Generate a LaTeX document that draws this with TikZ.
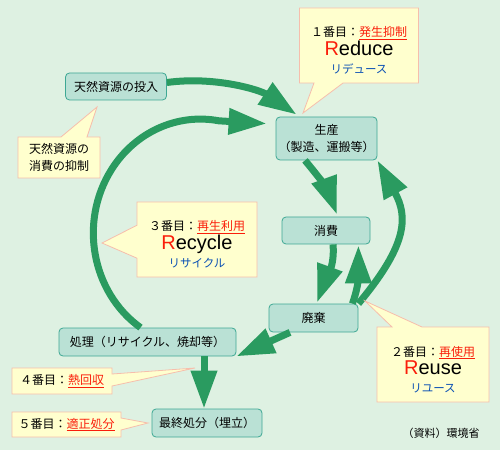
\documentclass[tikz,border=0pt]{standalone}
\usepackage{fontspec}
\setmainfont{Noto Sans CJK JP}
\newfontfamily\latinfont{Liberation Sans}
\usetikzlibrary{arrows.meta,shapes.callouts,positioning}

\definecolor{bgmint}{RGB}{222,241,226}
\definecolor{stagefill}{RGB}{186,225,213}
\definecolor{stageline}{RGB}{62,168,148}
\definecolor{notefill}{RGB}{255,255,206}
\definecolor{noteline}{RGB}{246,190,172}
\definecolor{flowgreen}{RGB}{42,155,96}
\definecolor{accentred}{RGB}{250,30,10}
\definecolor{kanablue}{RGB}{10,80,180}

\newcommand\redul[1]{\textcolor{accentred}{\underline{#1}}}
\newcommand\rword[2]{{\latinfont\fontsize{20}{22}\selectfont\textcolor{accentred}{#1}#2}}
\newcommand\kana[1]{{\color{kanablue}\fontsize{11.5}{13}\selectfont #1}}

\begin{document}
\begin{tikzpicture}[x=1pt, y=1pt,
    stage/.style={draw=stageline, fill=stagefill, rounded corners=4pt, line width=0.8pt, inner sep=0pt, align=center, font=\fontsize{12}{17}\selectfont},
    note/.style={rectangle callout, draw=noteline, fill=notefill, line width=0.8pt, inner sep=0pt, align=center, font=\fontsize{12}{17}\selectfont},
    flow/.style={draw=flowgreen, line width=7pt, -{Triangle[length=38pt,width=25pt]}}]
    \fill[bgmint] (0,0) rectangle (500,450);
    \useasboundingbox (0,0) rectangle (500,450);
    % stages of the cycle
    \node[stage, minimum width=101pt, minimum height=27pt] (input) at (116,363.5) {天然資源の投入};
    \node[stage, minimum width=101pt, minimum height=43pt] (prod) at (326.5,311.5) {生産\\（製造、運搬等）};
    \node[stage, minimum width=88pt, minimum height=27pt] (cons) at (326,219.5) {消費};
    \node[stage, minimum width=89pt, minimum height=28pt] (waste) at (313.5,132) {廃棄};
    \node[stage, minimum width=177pt, minimum height=28pt] (treat) at (147.5,108) {処理（リサイクル、焼却等）};
    \node[stage, minimum width=110pt, minimum height=28pt] (final) at (207,27) {最終処分（埋立）};
    % callout tips
    \coordinate (natptr) at (97,343);
    \coordinate (reduceptr) at (303,337);
    \coordinate (recycleptr) at (102,207);
    \coordinate (reuseptr) at (365,149);
    \coordinate (heatptr) at (195,82);
    \coordinate (disposeptr) at (148,27);
    \coordinate (reusebend) at (408,0);
    % flows
    \draw[flow] ([yshift=4pt]input.east) .. controls (215,374) and (260,360) .. ([xshift=21pt,yshift=2pt]prod.north west);
    \draw[flow] ([xshift=-7pt]treat.north) arc[start angle=236, end angle=80, x radius=107pt, y radius=114pt] -- ([xshift=-9pt,yshift=-7pt]prod.north west);
    \draw[flow] ([xshift=-21.5pt]prod.south) to[out=-50, in=110] ([xshift=11pt,yshift=2pt]cons.north);
    \draw[flow] ([xshift=7pt]cons.south) to[out=-85, in=70] ([xshift=3.5pt,yshift=1pt]waste.north);
    \draw[flow] ([xshift=-6pt]waste.north east) to[out=70, in=270] ([xshift=-12pt,yshift=-1pt]cons.south east);
    \draw[flow] (waste.north east) .. controls (reusebend |- cons.south) and (reusebend |- cons.north) .. (prod.south east);
    \draw[flow] ([xshift=-23.5pt]waste.south) -- (treat.south east);
    \draw[flow] ([xshift=-3pt]final.north |- treat.south) -- ([xshift=-3pt]final.north);
    % callouts
    \node[note, minimum width=82pt, minimum height=41pt, callout absolute pointer=(natptr), callout pointer width=26pt] (natcall) at (59,292.5) {天然資源の\\消費の抑制};
    \node[note, minimum width=119pt, minimum height=75pt, callout absolute pointer=(reduceptr), callout pointer width=29pt] (reducecall) at (359,404.5) {\rule{0pt}{20pt}１番目：\redul{発生抑制}\\[1pt]\rword{R}{educe}\\[1pt]\kana{リデュース}};
    \node[note, minimum width=120pt, minimum height=75pt, callout absolute pointer=(recycleptr), callout pointer width=33pt] (recyclecall) at (197,210.5) {\rule{0pt}{20pt}３番目：\redul{再生利用}\\[1pt]\rword{R}{ecycle}\\[1pt]\kana{リサイクル}};
    \node[note, minimum width=112pt, minimum height=75pt, callout absolute pointer=(reuseptr), callout pointer width=30pt] (reusecall) at (433,85.5) {\rule{0pt}{20pt}２番目：\redul{再使用}\\[1pt]\rword{R}{euse}\\[1pt]\kana{リユース}};
    \node[note, minimum width=100pt, minimum height=26pt, callout absolute pointer=(heatptr), callout pointer width=12pt] (heatcall) at (62,69) {４番目：\redul{熱回収}};
    \node[note, minimum width=109pt, minimum height=25pt, callout absolute pointer=(disposeptr), callout pointer width=12pt] (disposecall) at (66.5,25.5) {５番目：\redul{適正処分}};
    \node[font=\fontsize{11}{13}\selectfont] (source) at (441,17) {（資料）環境省};
\end{tikzpicture}
\end{document}
